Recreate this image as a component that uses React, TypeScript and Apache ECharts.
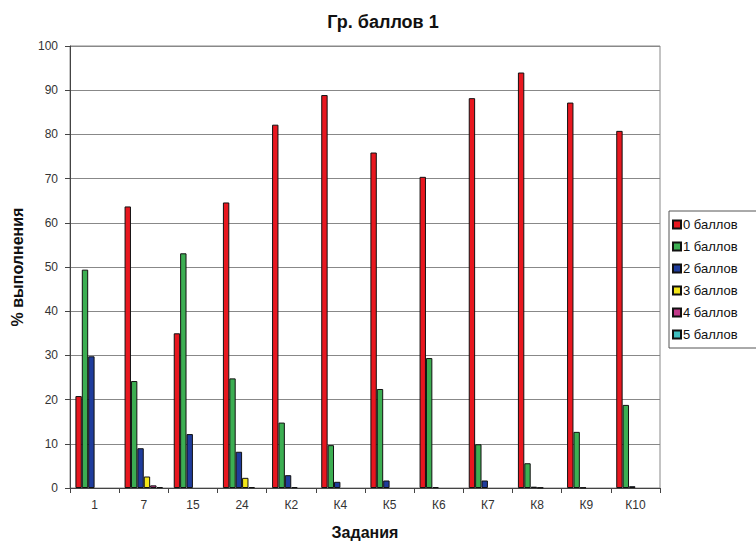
import React, { useEffect, useRef } from "react";
import * as echarts from "echarts";

const categories = ["1", "7", "15", "24", "К2", "К4", "К5", "К6", "К7", "К8", "К9", "К10"];
const seriesNames = ["0 баллов", "1 баллов", "2 баллов", "3 баллов", "4 баллов", "5 баллов"];
const score0 = [20.8, 63.7, 35.0, 64.6, 82.2, 88.9, 75.9, 70.4, 88.2, 94.0, 87.2, 80.8];
const score1 = [49.4, 24.2, 53.1, 24.8, 14.8, 9.7, 22.4, 29.4, 9.9, 5.6, 12.7, 18.8];
const score2 = [29.8, 9.0, 12.2, 8.2, 2.9, 1.4, 1.7, 0.2, 1.7, 0.3, 0.1, 0.4];
const score3 = [0, 2.6, 0, 2.3, 0.2, 0, 0, 0, 0, 0.1, 0, 0];
const score4 = [0, 0.6, 0, 0.2, 0, 0, 0, 0, 0, 0, 0, 0];
const score5 = [0, 0.2, 0, 0, 0, 0, 0, 0, 0, 0, 0, 0];
const colors = ["#e8171f", "#3cae52", "#1f3c9c", "#f3e61a", "#c2398a", "#3fbfc0"];

const FONT = "'Liberation Sans', Arial, sans-serif";

export default function App() {
  const ref = useRef<HTMLDivElement>(null);
  useEffect(() => {
    const chart = echarts.init(ref.current!, undefined, { renderer: "svg" });
    const data = [score0, score1, score2, score3, score4, score5];
    chart.setOption({
      animation: false,
      textStyle: { fontFamily: FONT },
      title: {
        text: "Гр. баллов 1",
        left: 378,
        textAlign: "center",
        top: 8,
        textStyle: { fontSize: 18, fontWeight: "bold", color: "#111", fontFamily: FONT },
      },
      legend: {
        orient: "vertical",
        left: 669,
        top: 211,
        data: seriesNames,
        itemWidth: 8,
        itemHeight: 8,
        itemGap: 9,
        padding: [7, 30, 7, 3],
        borderColor: "#555",
        borderWidth: 1,
        icon: "rect",
        textStyle: { fontSize: 13, color: "#111", fontFamily: FONT, padding: [0, 0, 0, -3] },
      },
      grid: {
        left: 70,
        right: 96,
        top: 46,
        bottom: 56,
        containLabel: false,
        outerBoundsMode: "none",
        show: true,
        borderColor: "#888",
        borderWidth: 1,
      },
      xAxis: {
        type: "category",
        data: categories,
        name: "Задания",
        nameLocation: "middle",
        nameGap: 36,
        nameTextStyle: { fontSize: 16, fontWeight: "bold", color: "#111", fontFamily: FONT },
        axisLine: { lineStyle: { color: "#444", width: 1 } },
        axisTick: { show: true, alignWithLabel: false, length: 5, lineStyle: { color: "#444" } },
        axisLabel: { fontSize: 12, color: "#333", margin: 11, fontFamily: FONT },
      },
      yAxis: {
        type: "value",
        min: 0,
        max: 100,
        interval: 10,
        name: "% выполнения",
        nameLocation: "middle",
        nameGap: 45,
        nameRotate: 90,
        nameTextStyle: { fontSize: 16, fontWeight: "bold", color: "#111", fontFamily: FONT },
        axisLine: { show: true, lineStyle: { color: "#444", width: 1 } },
        axisTick: { show: true, length: 5, lineStyle: { color: "#444" } },
        axisLabel: { fontSize: 12, color: "#333", margin: 12, fontFamily: FONT },
        splitLine: { show: true, lineStyle: { color: "#888", width: 1 } },
      },
      series: data.map((d, i) => ({
        name: seriesNames[i],
        type: "bar",
        data: d.map((v) => (v === 0 ? null : v)),
        barGap: "0%",
        barCategoryGap: "22%",
        itemStyle: { color: colors[i], borderColor: "#111", borderWidth: 1 },
      })),
    });
    return () => chart.dispose();
  }, []);
  return (
    <div
      ref={ref}
      style={{ position: "fixed", left: 0, top: 0, width: 756, height: 544, background: "#fff" }}
    />
  );
}
